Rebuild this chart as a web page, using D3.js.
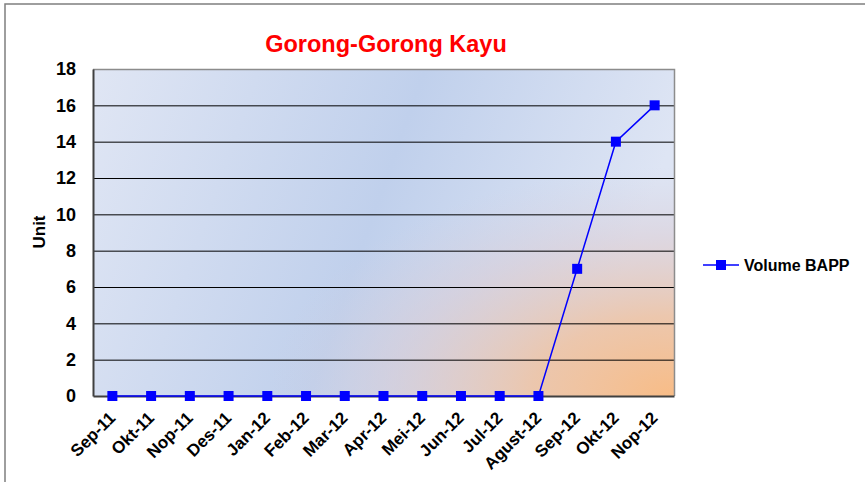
<!DOCTYPE html>
<html>
<head>
<meta charset="utf-8">
<script src="https://cdn.jsdelivr.net/npm/d3@7"></script>
<style>
  body { margin: 0; background: #fff; }
  svg { display: block; font-family: Arial, "Liberation Sans", sans-serif; }
</style>
</head>
<body>
<div id="chart"></div>
<script>
// data
var months = ["Sep-11", "Okt-11", "Nop-11", "Des-11", "Jan-12", "Feb-12", "Mar-12", "Apr-12",
  "Mei-12", "Jun-12", "Jul-12", "Agust-12", "Sep-12", "Okt-12", "Nop-12"];
var volumeBAPP = [0, 0, 0, 0, 0, 0, 0, 0, 0, 0, 0, 0, 7, 14, 16];
var yTicks = [0, 2, 4, 6, 8, 10, 12, 14, 16, 18];

var width = 865, height = 482;
var margin = {left: 93, top: 69, right: 865 - 674, bottom: 482 - 396};
var pw = width - margin.left - margin.right,
    ph = height - margin.top - margin.bottom;

var svg = d3.select("#chart").append("svg")
  .attr("width", width)
  .attr("height", height);

// outer chart border (only top and left visible)
svg.append("rect")
  .attr("x", 5).attr("y", 4)
  .attr("width", 900).attr("height", 600)
  .attr("fill", "none")
  .attr("stroke", "#7f7f7f")
  .attr("stroke-width", 1.5);

var defs = svg.append("defs");
// light -> blue -> light background
var lin = defs.append("linearGradient").attr("id", "bgLin")
  .attr("x1", 0).attr("y1", 0).attr("x2", 1).attr("y2", 0.2);
lin.append("stop").attr("offset", 0).attr("stop-color", "#e0e6f4");
lin.append("stop").attr("offset", 0.55).attr("stop-color", "#c0d0ec");
lin.append("stop").attr("offset", 1).attr("stop-color", "#dee5f4");

// orange glow from bottom right corner
var rad = defs.append("radialGradient").attr("id", "bgRad")
  .attr("cx", 1).attr("cy", 1).attr("r", 0.7);
rad.append("stop").attr("offset", 0).attr("stop-color", "#f8bc86").attr("stop-opacity", 1);
rad.append("stop").attr("offset", 0.35).attr("stop-color", "#eec3a4").attr("stop-opacity", 0.88);
rad.append("stop").attr("offset", 0.7).attr("stop-color", "#dccad0").attr("stop-opacity", 0.5);
rad.append("stop").attr("offset", 1).attr("stop-color", "#d2cfe0").attr("stop-opacity", 0);

var g = svg.append("g").attr("transform", "translate(" + margin.left + "," + margin.top + ")");

g.append("rect").attr("width", pw).attr("height", ph).attr("fill", "url(#bgLin)");
g.append("rect").attr("width", pw).attr("height", ph).attr("fill", "url(#bgRad)");

var x = d3.scaleBand().domain(months).range([0, pw]);
var y = d3.scaleLinear().domain([0, 18]).range([ph, 0]);

// gridlines
g.selectAll(".grid").data(yTicks.filter(function(d){ return d > 0 && d < 18; }))
  .enter().append("line")
    .attr("x1", 0).attr("x2", pw)
    .attr("y1", function(d){ return y(d) + 0.5; })
    .attr("y2", function(d){ return y(d) + 0.5; })
    .attr("stroke", "#000").attr("stroke-width", 1);

// plot border top/right
g.append("path")
  .attr("d", "M0," + 0.5 + "H" + (pw + 0.5) + "V" + ph)
  .attr("fill", "none").attr("stroke", "#8c8c8c").attr("stroke-width", 1.5);

// y axis
var yAxis = g.append("g")
  .call(d3.axisLeft(y).tickValues(yTicks).tickSize(0).tickPadding(17));
yAxis.select(".domain").attr("stroke", "#404040").attr("stroke-width", 2);
yAxis.selectAll("text")
  .attr("font-size", 18).attr("font-weight", "bold").attr("fill", "#000")
  .attr("font-family", "Arial, 'Liberation Sans', sans-serif");

// x axis
var xAxis = g.append("g").attr("transform", "translate(0," + ph + ")")
  .call(d3.axisBottom(x).tickSize(0).tickPadding(0));
xAxis.select(".domain").attr("stroke", "#404040").attr("stroke-width", 2);
xAxis.selectAll("text")
  .attr("font-size", 17).attr("font-weight", "bold").attr("fill", "#000")
  .attr("font-family", "Arial, 'Liberation Sans', sans-serif")
  .attr("text-anchor", "end")
  .attr("dy", null)
  .attr("transform", "translate(4,23) rotate(-45)");

// line
var line = d3.line()
  .x(function(d, i){ return x(months[i]) + x.bandwidth() / 2; })
  .y(function(d){ return y(d); });

g.append("path").datum(volumeBAPP)
  .attr("d", line)
  .attr("fill", "none")
  .attr("stroke", "#0000ff")
  .attr("stroke-width", 1.5);

g.selectAll(".pt").data(volumeBAPP).enter().append("rect")
  .attr("x", function(d, i){ return x(months[i]) + x.bandwidth() / 2 - 5; })
  .attr("y", function(d){ return y(d) - 5; })
  .attr("width", 10).attr("height", 10)
  .attr("fill", "#0000ff");

// title
svg.append("text")
  .attr("x", 386).attr("y", 52)
  .attr("text-anchor", "middle")
  .attr("font-size", 23.5).attr("font-weight", "bold")
  .attr("fill", "#ff0000")
  .text("Gorong-Gorong Kayu");

// y title
svg.append("text")
  .attr("transform", "translate(45,232) rotate(-90)")
  .attr("text-anchor", "middle")
  .attr("font-size", 17).attr("font-weight", "bold")
  .text("Unit");

// legend
var leg = svg.append("g").attr("transform", "translate(703,265)");
leg.append("line").attr("x1", 0).attr("x2", 36).attr("y1", 0).attr("y2", 0)
  .attr("stroke", "#0000ff").attr("stroke-width", 1.5);
leg.append("rect").attr("x", 13).attr("y", -5).attr("width", 10).attr("height", 10)
  .attr("fill", "#0000ff");
leg.append("text").attr("x", 41).attr("y", 6)
  .attr("font-size", 16).attr("font-weight", "bold")
  .text("Volume BAPP");
</script>
</body>
</html>
